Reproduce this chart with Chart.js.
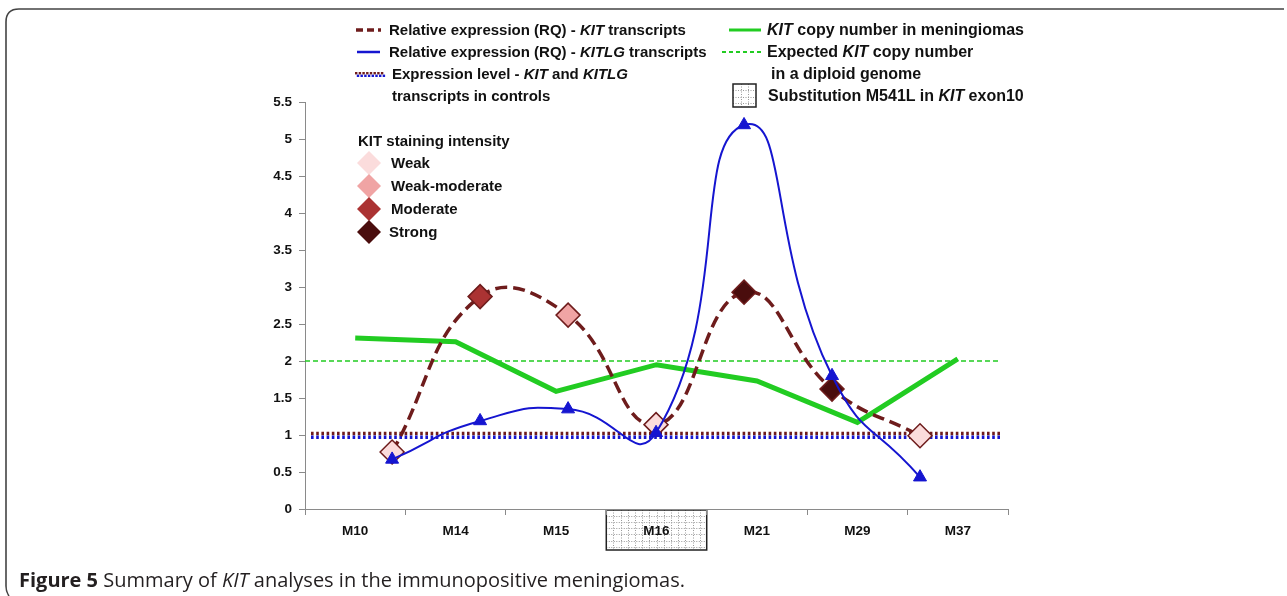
<!DOCTYPE html>
<html>
<head>
<meta charset="utf-8">
<script src="https://cdn.jsdelivr.net/npm/chart.js@4.4.1/dist/chart.umd.min.js"></script>
<style>
  html, body { margin: 0; padding: 0; background: #fff; }
  #wrap { position: relative; width: 1287px; height: 596px; overflow: hidden; }
  canvas { position: absolute; left: 0; top: 0; }
  .t { position: absolute; white-space: nowrap; font-family: "Liberation Sans", Arial, sans-serif; font-weight: bold; font-size: 15px; line-height: 16px; color: #111; }
  .t.r { font-size: 16px; }
  .t i { font-style: italic; }
  #caption { position: absolute; left: 19px; top: 568px; white-space: nowrap; font-family: "Open Sans", "Noto Sans", sans-serif; font-size: 20px; color: #231f20; line-height: 24px; }
  #caption b { font-weight: 700; }
</style>
</head>
<body>
<div id="wrap">
  <canvas id="c" width="1287" height="596"></canvas>
  <div class="t" style="left:389px;top:22px">Relative expression (RQ) - <i>KIT</i> transcripts</div>
  <div class="t" style="left:389px;top:44px">Relative expression (RQ) - <i>KITLG</i> transcripts</div>
  <div class="t" style="left:392px;top:66px">Expression level - <i>KIT</i> and <i>KITLG</i></div>
  <div class="t" style="left:392px;top:88px">transcripts in controls</div>
  <div class="t r" style="left:767px;top:22px"><i>KIT</i> copy number in meningiomas</div>
  <div class="t r" style="left:767px;top:44px">Expected <i>KIT</i> copy number</div>
  <div class="t r" style="left:771px;top:66px">in a diploid genome</div>
  <div class="t r" style="left:768px;top:88px">Substitution M541L in <i>KIT</i> exon10</div>
  <div class="t" style="left:358px;top:133px">KIT staining intensity</div>
  <div class="t" style="left:391px;top:155px">Weak</div>
  <div class="t" style="left:391px;top:178px">Weak-moderate</div>
  <div class="t" style="left:391px;top:201px">Moderate</div>
  <div class="t" style="left:389px;top:224px">Strong</div>
  <div id="caption"><b>Figure 5</b> Summary of <i>KIT</i> analyses in the immunopositive meningiomas.</div>
</div>
<script>
// ---- Data ----
const categories = ['M10', 'M14', 'M15', 'M16', 'M21', 'M29', 'M37'];
const kitRQ = [0.77, 2.87, 2.62, 1.14, 2.93, 1.62, 0.99];
const kitlgRQ = [0.67, 1.19, 1.35, 1.03, 5.19, 1.80, 0.43];
const kitCopyNumber = [2.31, 2.26, 1.59, 1.95, 1.73, 1.17, 2.03];
const expectedCopyNumber = [2];
const controlKit = [1.02];
const controlKitlg = [0.97];
const kitStaining = ['Weak', 'Moderate', 'Weak-moderate', 'Weak', 'Strong', 'Strong', 'Weak'];
const stainingLevels = ['Weak', 'Weak-moderate', 'Moderate', 'Strong'];
const substitutionSamples = ['M16'];
const yTickValues = [0, 0.5, 1, 1.5, 2, 2.5, 3, 3.5, 4, 4.5, 5, 5.5];

// ---- Styles ----
const stainColors = { 'Weak': '#fbdcdc', 'Weak-moderate': '#f0a4a4', 'Moderate': '#ab3333', 'Strong': '#4a0d0d' };
const BROWN = '#6e1c1c', BLUE = '#1515d0', GREEN = '#22cc22';

function gridPattern(ctx, x, y, w, h, step) {
  ctx.save();
  ctx.fillStyle = '#fff';
  ctx.fillRect(x, y, w, h);
  ctx.strokeStyle = '#9a9a9a';
  ctx.lineWidth = 1;
  ctx.setLineDash([1, 1.5]);
  ctx.beginPath();
  for (let xx = x + step; xx < x + w - 1; xx += step) { ctx.moveTo(Math.round(xx) + 0.5, y); ctx.lineTo(Math.round(xx) + 0.5, y + h); }
  for (let yy = y + step * 0.85; yy < y + h - 1; yy += step * 0.85) { ctx.moveTo(x, Math.round(yy) + 0.5); ctx.lineTo(x + w, Math.round(yy) + 0.5); }
  ctx.stroke();
  ctx.setLineDash([]);
  ctx.strokeStyle = '#222';
  ctx.lineWidth = 1.5;
  ctx.strokeRect(x, y, w, h);
  ctx.restore();
}

function diamond(ctx, cx, cy, r, fill) {
  ctx.save();
  ctx.beginPath();
  ctx.moveTo(cx, cy - r); ctx.lineTo(cx + r, cy); ctx.lineTo(cx, cy + r); ctx.lineTo(cx - r, cy); ctx.closePath();
  ctx.fillStyle = fill; ctx.fill();
  ctx.restore();
}

const decorPlugin = {
  id: 'decor',
  beforeDraw(chart) {
    const ctx = chart.ctx;
    ctx.save();
    ctx.fillStyle = '#fff';
    ctx.fillRect(0, 0, chart.width, chart.height);
    // figure frame
    ctx.strokeStyle = '#444';
    ctx.lineWidth = 1.6;
    ctx.beginPath();
    ctx.moveTo(9, 596);
    ctx.quadraticCurveTo(6, 592, 6, 586);
    ctx.lineTo(6, 22);
    ctx.quadraticCurveTo(6, 9, 19, 9);
    ctx.lineTo(1284, 9);
    ctx.stroke();
    // substitution box behind the category label
    const xs = chart.scales.x, area = chart.chartArea;
    const half = (xs.getPixelForTick(1) - xs.getPixelForTick(0)) / 2;
    substitutionSamples.forEach(s => {
      const i = categories.indexOf(s);
      const px = xs.getPixelForTick(i);
      gridPattern(ctx, px - half, area.bottom + 1, half * 2, 40, 7.2);
    });
    // legend samples
    ctx.lineCap = 'butt';
    ctx.strokeStyle = BROWN; ctx.lineWidth = 3.5; ctx.setLineDash([7, 4]);
    ctx.beginPath(); ctx.moveTo(356, 30); ctx.lineTo(381, 30); ctx.stroke();
    ctx.setLineDash([]);
    ctx.strokeStyle = BLUE; ctx.lineWidth = 2.5;
    ctx.beginPath(); ctx.moveTo(357, 52); ctx.lineTo(380, 52); ctx.stroke();
    ctx.strokeStyle = GREEN; ctx.lineWidth = 3;
    ctx.beginPath(); ctx.moveTo(729, 30); ctx.lineTo(761, 30); ctx.stroke();
    ctx.lineWidth = 2; ctx.setLineDash([4, 3]);
    ctx.beginPath(); ctx.moveTo(722, 52); ctx.lineTo(761, 52); ctx.stroke();
    ctx.setLineDash([]);
    for (let k = 0; k < 8; k++) {
      ctx.fillStyle = BROWN; ctx.fillRect(355 + k * 3.7, 72, 2.4, 2.4);
      ctx.fillStyle = BLUE; ctx.fillRect(356.8 + k * 3.7, 74.6, 2.4, 2.4);
    }
    gridPattern(ctx, 733, 84, 23, 23, 7.6);
    // staining legend diamonds
    stainingLevels.forEach((lvl, k) => diamond(ctx, 369, 163 + k * 23, 12, stainColors[lvl]));
    ctx.restore();
  },
  beforeDatasetsDraw(chart) {
    const ctx = chart.ctx, area = chart.chartArea, ys = chart.scales.y;
    ctx.save();
    ctx.lineCap = 'butt';
    const left = area.left + 6, right = area.right - 8;
    // expected copy number
    ctx.strokeStyle = GREEN; ctx.lineWidth = 1.4; ctx.setLineDash([5, 3]);
    expectedCopyNumber.forEach(v => {
      const y = ys.getPixelForValue(v);
      ctx.beginPath(); ctx.moveTo(area.left, y); ctx.lineTo(right, y); ctx.stroke();
    });
    // controls
    ctx.lineWidth = 3.5; ctx.setLineDash([2.6, 2.6]);
    ctx.strokeStyle = BROWN;
    controlKit.forEach(v => { const y = ys.getPixelForValue(v); ctx.beginPath(); ctx.moveTo(left, y); ctx.lineTo(right, y); ctx.stroke(); });
    ctx.strokeStyle = BLUE;
    controlKitlg.forEach(v => { const y = ys.getPixelForValue(v); ctx.beginPath(); ctx.moveTo(left, y); ctx.lineTo(right, y); ctx.stroke(); });
    ctx.restore();
  }
};

const ctx = document.getElementById('c').getContext('2d');
new Chart(ctx, {
  type: 'line',
  data: {
    labels: categories,
    datasets: [
      {
        label: 'Relative expression (RQ) - KITLG transcripts',
        xAxisID: 'x2',
        data: kitlgRQ.map((v, i) => ({ x: i, y: v })),
        borderColor: BLUE, borderWidth: 2, tension: 0.55,
        pointStyle: 'triangle', pointRadius: 7.5, pointBackgroundColor: BLUE, pointBorderColor: BLUE, pointBorderWidth: 1,
        fill: false
      },
      {
        label: 'Relative expression (RQ) - KIT transcripts',
        xAxisID: 'x2',
        data: kitRQ.map((v, i) => ({ x: i, y: v })),
        borderColor: BROWN, borderWidth: 3.5, borderDash: [12, 6], tension: 0.45,
        pointStyle: 'rectRot', pointRadius: 12,
        pointBackgroundColor: kitStaining.map(s => stainColors[s]),
        pointBorderColor: BROWN, pointBorderWidth: 1.5,
        fill: false
      },
      {
        label: 'KIT copy number in meningiomas',
        xAxisID: 'x',
        data: kitCopyNumber,
        borderColor: GREEN, borderWidth: 5, tension: 0,
        pointRadius: 0, fill: false
      }
    ]
  },
  options: {
    responsive: false,
    animation: false,
    events: [],
    layout: { padding: { left: 265, right: 279, top: 102, bottom: 57 } },
    plugins: { legend: { display: false }, tooltip: { enabled: false } },
    scales: {
      x: {
        type: 'category',
        offset: true,
        afterFit(s) { s.height = 30; },
        grid: { display: true, drawOnChartArea: false, offset: true, tickLength: 6, color: '#8a8a8a' },
        border: { display: true, color: '#8a8a8a', width: 1 },
        ticks: { color: '#111', font: { family: 'Liberation Sans', weight: 'bold', size: 13.5 }, padding: 8, maxRotation: 0 }
      },
      x2: {
        type: 'linear', display: false, min: -0.99, max: 7.0
      },
      y: {
        min: 0, max: 5.5,
        afterFit(s) { s.width = 40; },
        afterBuildTicks(s) { s.ticks = yTickValues.map(v => ({ value: v })); },
        grid: { display: true, drawOnChartArea: false, tickLength: 6, color: '#8a8a8a' },
        border: { display: true, color: '#8a8a8a', width: 1 },
        ticks: { color: '#111', font: { family: 'Liberation Sans', weight: 'bold', size: 13.5 }, padding: 7,
                 callback: v => String(v) }
      }
    }
  },
  plugins: [decorPlugin]
});
</script>
</body>
</html>
